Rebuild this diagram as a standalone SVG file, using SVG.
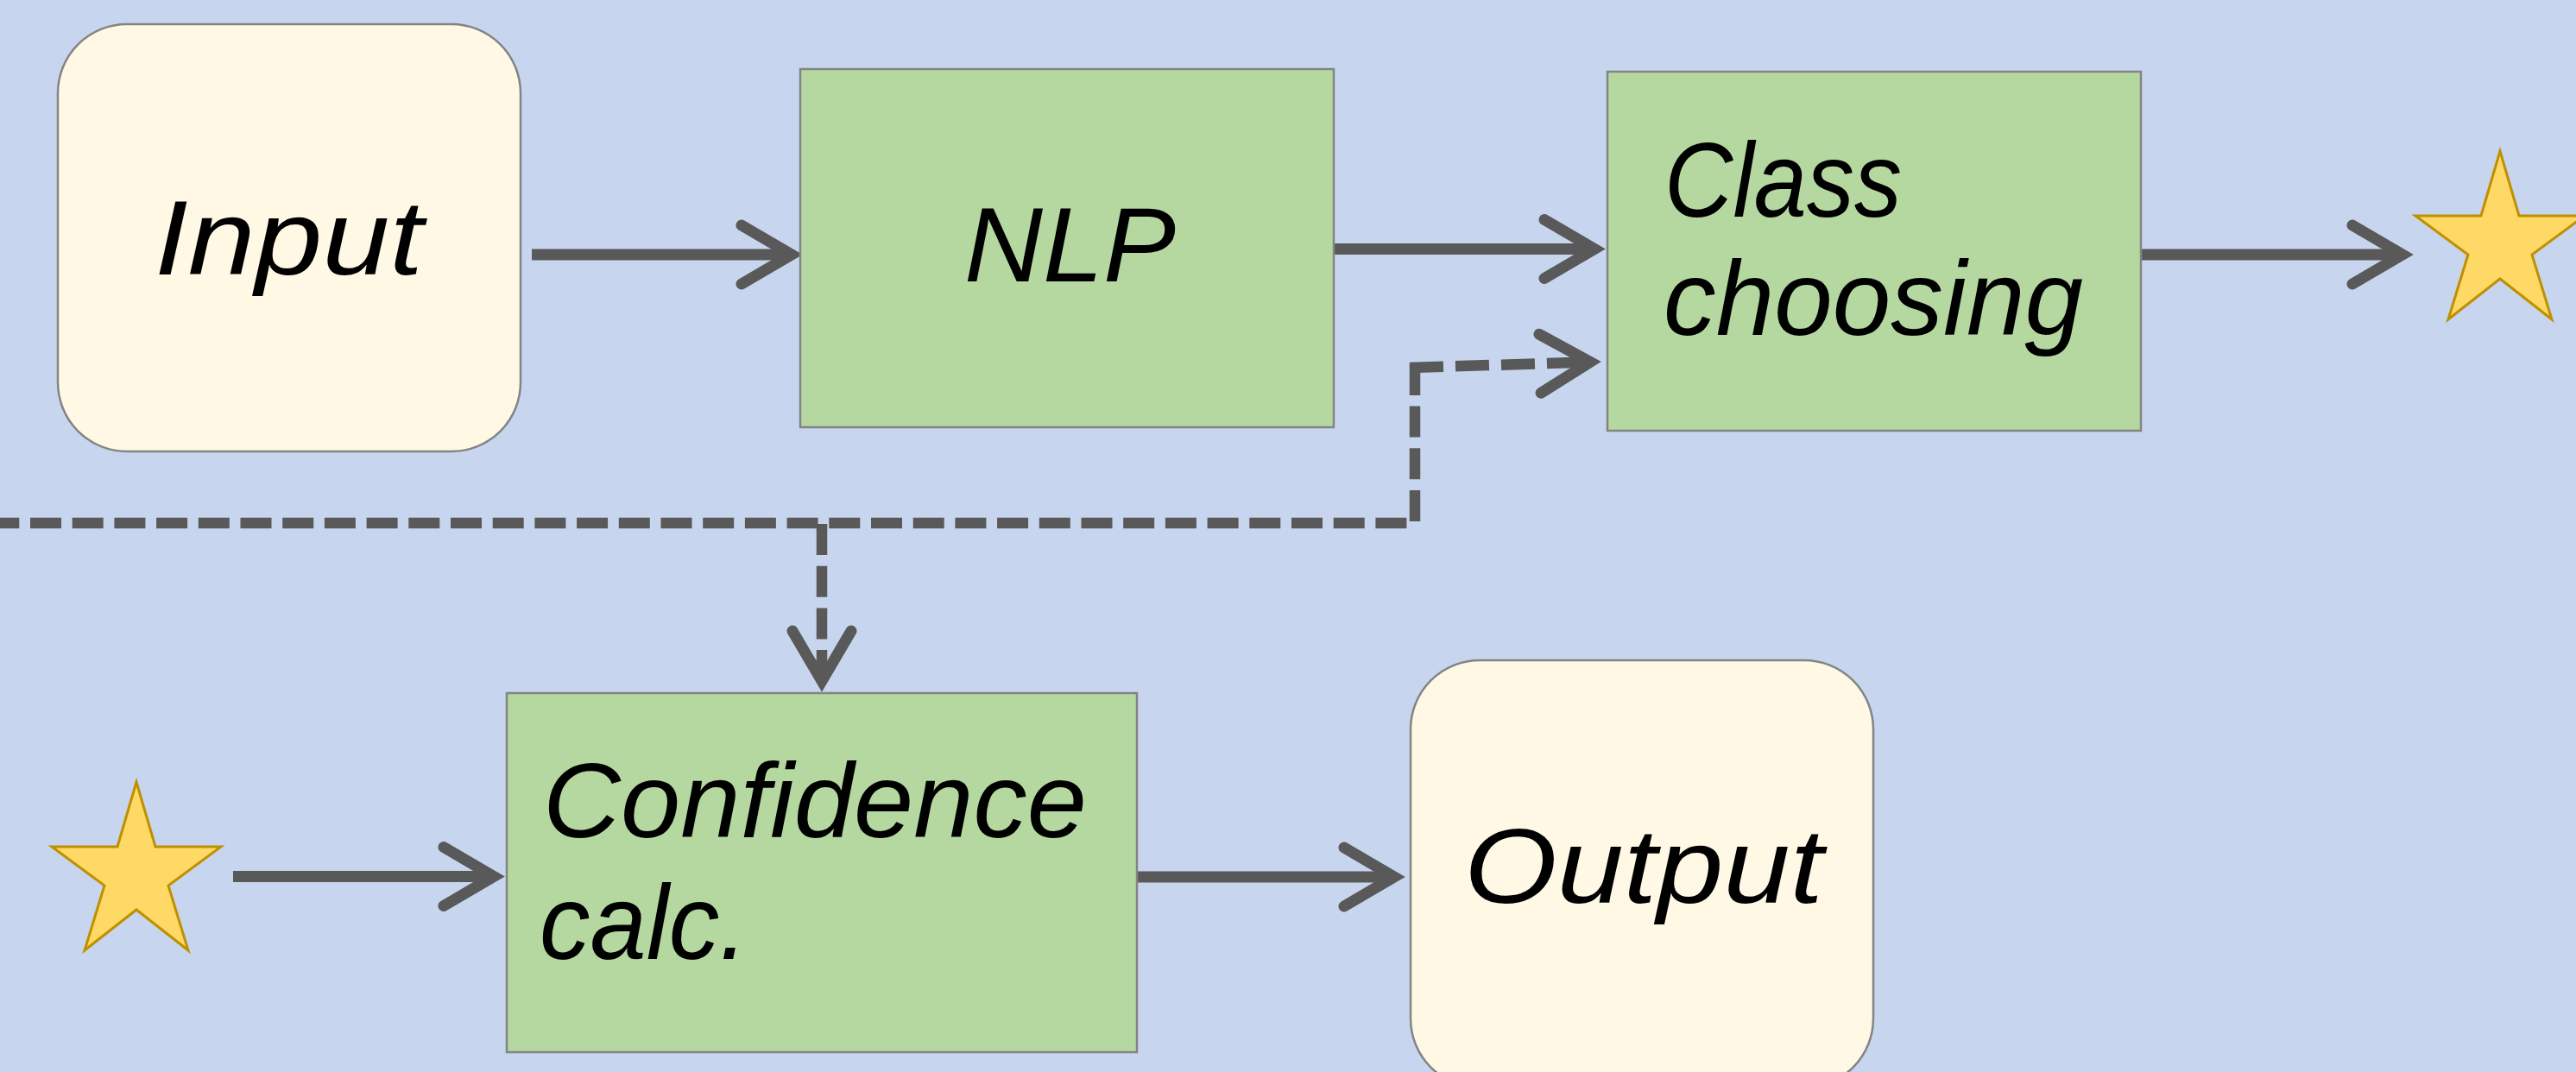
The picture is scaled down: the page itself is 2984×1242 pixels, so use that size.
<svg xmlns="http://www.w3.org/2000/svg" width="2984" height="1242" viewBox="0 0 2984 1242">
  <style>
    .term { fill: #FFF8E5; stroke: #848484; stroke-width: 2.5; }
    .proc { fill: #B5D8A1; stroke: #848484; stroke-width: 2.5; }
    .star { fill: #FFD966; stroke: #BF9000; stroke-width: 3; stroke-linejoin: miter; }
    .lbl { font-family: "Liberation Sans", Arial, sans-serif; font-style: italic; font-size: 122px; fill: #000000; }
    .edge { fill: none; stroke: #595959; stroke-width: 13; stroke-linecap: butt; }
    .dash { stroke-width: 12.5; stroke-dasharray: 36 12.7; }
    .dash2 { stroke-width: 12.5; stroke-dasharray: 39 14; }
  </style>
  <defs>
    <marker id="open" markerUnits="userSpaceOnUse" viewBox="-80 -50 110 100" markerWidth="110" markerHeight="100" refX="0" refY="0" orient="auto" overflow="visible">
      <path d="M -58 -34 L 0 0 L -58 34" fill="none" stroke="#595959" stroke-width="13" stroke-linecap="round" stroke-linejoin="miter"/>
    </marker>
    <polygon id="starShape" points="0,0 22,75 98,75 37,120 60,195 0,148 -60,195 -37,120 -98,75 -22,75"/>
  </defs>

  <rect x="0" y="0" width="2984" height="1242" fill="#C7D6EE"/>

  <g id="connectors">
    <path class="edge" d="M 616 295 H 917" marker-end="url(#open)"/>
    <path class="edge" d="M 1545 288.5 H 1847" marker-end="url(#open)"/>
    <path class="edge" d="M 2480 295 H 2783" marker-end="url(#open)"/>
    <path class="edge" d="M 270 1015.5 H 572" marker-end="url(#open)"/>
    <path class="edge" d="M 1317 1016 H 1615" marker-end="url(#open)"/>
    <path class="edge dash" d="M -13.7 606 H 1639"/>
    <path class="edge dash" d="M 952 607 V 789" marker-end="url(#open)"/>
    <path class="edge dash" d="M 1639 604 V 420"/>
    <path class="edge dash2" d="M 1633 426 L 1842 419.4" marker-end="url(#open)"/>
  </g>

  <g id="node-input">
    <rect class="term" x="67" y="28" width="536" height="495" rx="80" ry="80"/>
    <text class="lbl" x="179" y="318" textLength="311" lengthAdjust="spacingAndGlyphs">Input</text>
  </g>

  <g id="node-nlp">
    <rect class="proc" x="927" y="80" width="618" height="415"/>
    <text class="lbl" x="1117" y="326" textLength="245" lengthAdjust="spacingAndGlyphs">NLP</text>
  </g>

  <g id="node-class">
    <rect class="proc" x="1862" y="83" width="618" height="416"/>
    <text class="lbl" x="1928" y="251" textLength="275" lengthAdjust="spacingAndGlyphs">Class</text>
    <text class="lbl" x="1927" y="388" textLength="486" lengthAdjust="spacingAndGlyphs">choosing</text>
  </g>

  <g id="node-star-out">
    <use href="#starShape" class="star" transform="translate(2896,175)"/>
  </g>

  <g id="node-star-in">
    <use href="#starShape" class="star" transform="translate(158,906)"/>
  </g>

  <g id="node-confidence">
    <rect class="proc" x="587" y="803" width="730" height="416"/>
    <text class="lbl" x="629" y="970" textLength="630" lengthAdjust="spacingAndGlyphs">Confidence</text>
    <text class="lbl" x="625" y="1111" textLength="241" lengthAdjust="spacingAndGlyphs">calc.</text>
  </g>

  <g id="node-output">
    <rect class="term" x="1634" y="765" width="536" height="495" rx="80" ry="80"/>
    <text class="lbl" x="1696" y="1046" textLength="416" lengthAdjust="spacingAndGlyphs">Output</text>
  </g>
</svg>
